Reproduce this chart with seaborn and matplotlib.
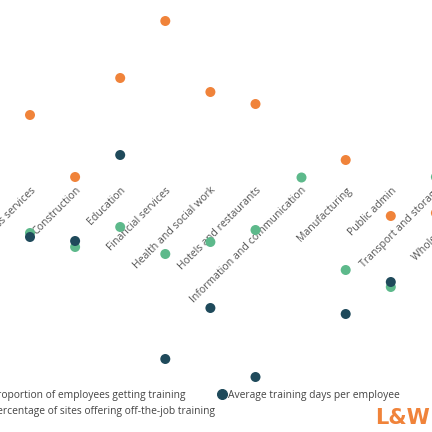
import numpy as np
import pandas as pd
import matplotlib
matplotlib.use("Agg")
import matplotlib.pyplot as plt
from matplotlib.lines import Line2D
import seaborn as sns

sectors = ["Business services", "Construction", "Education", "Financial services",
           "Health and social work", "Hotels and restaurants",
           "Information and communication", "Manufacturing", "Public admin",
           "Transport and storage", "Wholesale and retail"]

proportion_training = [16.75, 1.25, 26.0, 40.25, 22.5, 19.5, np.nan, 5.5, -8.5, -7.75, np.nan]
sites_offjob = [-12.75, -16.25, -11.25, -18.0, -15.0, -12.0, 1.25, -22.0, -26.25, 1.25, np.nan]
avg_days = [-13.75, -14.75, 6.75, -44.25, -31.5, -48.75, np.nan, -33.0, -25.0, np.nan, np.nan]

series_names = ["Proportion of employees getting training",
                "Percentage of sites offering off-the-job training",
                "Average training days per employee"]
colors = ["#F0833A", "#5DB98B", "#1F4A5B"]

df = pd.DataFrame({
    "sector": sectors * 3,
    "value": proportion_training + sites_offjob + avg_days,
    "series": [series_names[0]] * len(sectors) + [series_names[1]] * len(sectors)
              + [series_names[2]] * len(sectors),
})

sns.set_theme(style="white")
plt.rcParams["font.family"] = ["Open Sans", "DejaVu Sans"]

fig = plt.figure(figsize=(6, 6), dpi=72)
step = 45.1
x0 = 30.0
ax = fig.add_axes([(x0 - 0.5 * step) / 432, 0, len(sectors) * step / 432, 1])
ax.patch.set_alpha(0)

draw_order = [series_names[0], series_names[2], series_names[1]]
pal = dict(zip(series_names, colors))
sns.stripplot(data=df, x="sector", y="value", hue="series", order=sectors,
              hue_order=draw_order, palette=pal, jitter=False, size=10,
              linewidth=0, legend=False, ax=ax)

ax.set_ylim(-62.5, 45.5)
ax.set_xlim(-0.5, len(sectors) - 0.5)
ax.set_xlabel("")
ax.set_ylabel("")
ax.set_yticks([])
for s in ["top", "right", "left"]:
    ax.spines[s].set_visible(False)
ax.spines["bottom"].set_position(("data", 0))
ax.spines["bottom"].set_visible(False)
ax.tick_params(axis="x", length=0, pad=3, labelsize=10.5, labelcolor="#555555")
ax.set_xticks(range(len(sectors)))
ax.set_xticklabels(sectors, rotation=45, ha="right", rotation_mode="anchor")

handles = [Line2D([], [], marker="o", ls="", color=c, markersize=10) for c in colors]
fig.legend(handles, series_names, ncol=2, loc="upper left",
           bbox_to_anchor=(-20 / 432, 1 - 390 / 432), frameon=False,
           fontsize=10.2, handlelength=1.0, handletextpad=0.1, columnspacing=0.2,
           borderpad=0, borderaxespad=0, labelspacing=0.5, labelcolor="#444444")

fig.text(430 / 432, 1 - 424 / 432, "L&W", fontsize=21, fontweight="bold",
         color="#F0833A", family=["Liberation Sans Narrow", "DejaVu Sans"],
         ha="right", va="baseline")

fig.savefig("out.png", dpi=72)
